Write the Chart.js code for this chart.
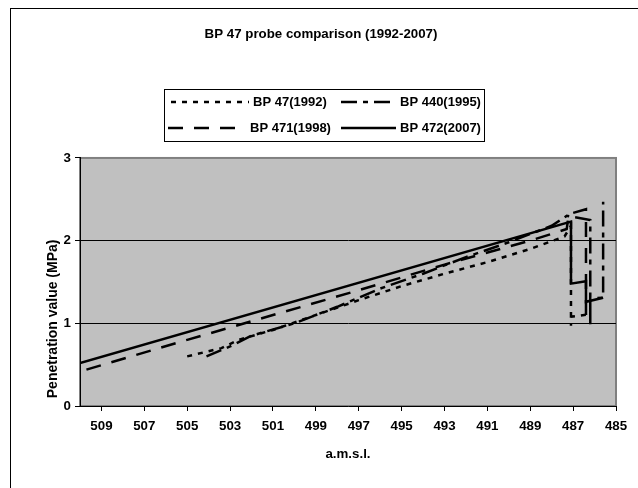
<!DOCTYPE html>
<html>
<head>
<meta charset="utf-8">
<script src="https://cdn.jsdelivr.net/npm/chart.js@4.4.1/dist/chart.umd.min.js"></script>
<style>
html, body { margin: 0; padding: 0; background: #fff; }
#wrap { width: 638px; height: 488px; position: relative; }
</style>
</head>
<body>
<div id="wrap"><canvas id="c"></canvas></div>
<script>
// series names
var seriesNames = ['BP 47(1992)', 'BP 440(1995)', 'BP 471(1998)', 'BP 472(2007)'];

// altitude (a.m.s.l.) and penetration value (MPa)
var bp47X  = [505.0, 503.4, 502.6, 501.0, 499.0, 497.0, 495.0, 493.0, 491.0, 489.0, 487.4, 487.1, 487.1, 487.1, 486.2];
var bp47Y  = [0.60, 0.70, 0.80, 0.92, 1.10, 1.28, 1.45, 1.60, 1.74, 1.90, 2.05, 2.18, 0.97, 1.08, 1.11];

var bp440X = [504.1, 503.0, 502.0, 500.0, 498.0, 496.0, 494.0, 492.0, 490.0, 488.0, 487.3, 486.2, 486.2, 486.2, 485.6, 485.6];
var bp440Y = [0.60, 0.72, 0.85, 1.00, 1.20, 1.42, 1.60, 1.80, 1.98, 2.18, 2.30, 2.25, 0.98, 1.30, 1.31, 2.47];

var bp471X = [509.7, 505.0, 501.0, 497.0, 493.0, 489.0, 487.3, 487.2, 486.4, 486.4];
var bp471Y = [0.44, 0.80, 1.10, 1.40, 1.71, 2.00, 2.14, 2.32, 2.38, 1.00];

var bp472X = [510.0, 487.1, 487.1, 486.4, 486.4, 485.6];
var bp472Y = [0.52, 2.23, 1.48, 1.51, 1.26, 1.31];

// tick labels
var xTicks = [485, 487, 489, 491, 493, 495, 497, 499, 501, 503, 505, 507, 509];
var yTicks = [0, 1, 2, 3];

var FONT = '"Liberation Sans", Arial, sans-serif';

function pts(xs, ys) {
  var out = [];
  for (var i = 0; i < xs.length; i++) out.push({x: xs[i], y: ys[i]});
  return out;
}

// gray plot area + outer frame
var plotBack = {
  id: 'plotBack',
  beforeDraw: function(chart) {
    var a = chart.chartArea, ctx = chart.ctx;
    ctx.save();
    ctx.fillStyle = '#c0c0c0';
    ctx.fillRect(a.left, a.top, a.right - a.left, a.bottom - a.top);
    ctx.strokeStyle = '#808080';
    ctx.lineWidth = 2;
    ctx.strokeRect(a.left, a.top, a.right - a.left, a.bottom - a.top);
    ctx.restore();
  },
  afterDraw: function(chart) {
    var ctx = chart.ctx;
    ctx.save();
    ctx.strokeStyle = '#000';
    ctx.lineWidth = 1;
    ctx.strokeRect(10.5, 8.5, 900, 900);
    ctx.restore();
  }
};

// boxed legend in two columns, like the original
var legendSpots = [[171, 249, 102], [341, 396, 102], [168, 246, 128], [341, 396, 128]];
var boxLegend = {
  id: 'boxLegend',
  afterDraw: function(chart) {
    var ctx = chart.ctx;
    ctx.save();
    ctx.strokeStyle = '#000';
    ctx.lineWidth = 1;
    ctx.strokeRect(164.5, 89.5, 320, 52);
    chart.data.datasets.forEach(function(ds, i) {
      var s = legendSpots[i];
      ctx.beginPath();
      ctx.setLineDash(ds.borderDash || []);
      ctx.lineWidth = ds.borderWidth;
      ctx.strokeStyle = ds.borderColor;
      ctx.moveTo(s[0], s[2]);
      ctx.lineTo(s[1], s[2]);
      ctx.stroke();
      ctx.setLineDash([]);
      ctx.fillStyle = '#000';
      ctx.font = 'bold 13px ' + FONT;
      ctx.textBaseline = 'middle';
      ctx.fillText(ds.label, s[1] + 4, s[2]);
    });
    ctx.restore();
  }
};

var dashes = [[5, 6], [16, 6, 5, 6], [15, 11], []];
var xyX = [bp47X, bp440X, bp471X, bp472X];
var xyY = [bp47Y, bp440Y, bp471Y, bp472Y];

var datasets = seriesNames.map(function(name, i) {
  return {
    label: name,
    data: pts(xyX[i], xyY[i]),
    showLine: true,
    borderColor: '#000',
    backgroundColor: '#000',
    borderWidth: 2.5,
    borderDash: dashes[i],
    pointRadius: 0,
    tension: 0
  };
});

new Chart(document.getElementById('c'), {
  type: 'scatter',
  data: { datasets: datasets },
  plugins: [plotBack, boxLegend],
  options: {
    responsive: true,
    maintainAspectRatio: false,
    animation: false,
    events: [],
    layout: { padding: { left: 26, top: 0, right: 22, bottom: 24 } },
    plugins: {
      legend: { display: false },
      tooltip: { enabled: false },
      title: {
        display: true,
        text: 'BP 47 probe comparison (1992-2007)',
        color: '#000',
        font: { family: FONT, size: 13.3, weight: 'bold' },
        padding: { top: 26, bottom: 116 }
      }
    },
    scales: {
      x: {
        type: 'linear',
        min: 485,
        max: 510,
        reverse: true,
        afterBuildTicks: function(s) { s.ticks = xTicks.map(function(v) { return {value: v}; }); },
        afterFit: function(s) { s.height = 58; },
        ticks: { color: '#000', font: { family: FONT, size: 13.3, weight: 'bold' }, padding: 7, maxRotation: 0, autoSkip: false },
        grid: { drawOnChartArea: false, drawTicks: true, tickLength: 5, tickColor: '#000' },
        border: { color: '#000', width: 1 },
        title: { display: true, text: 'a.m.s.l.', color: '#000', font: { family: FONT, size: 13.3, weight: 'bold' }, padding: { top: 4, bottom: 2 } }
      },
      y: {
        type: 'linear',
        min: 0,
        max: 3,
        afterBuildTicks: function(s) { s.ticks = yTicks.map(function(v) { return {value: v}; }); },
        afterFit: function(s) { s.width = 54; },
        ticks: { color: '#000', font: { family: FONT, size: 13.3, weight: 'bold' }, padding: 4 },
        grid: {
          color: function(c) { return (c.tick && (c.tick.value === 1 || c.tick.value === 2)) ? '#000' : 'rgba(0,0,0,0)'; },
          tickColor: '#000',
          tickLength: 5
        },
        border: { color: '#000', width: 1 },
        title: { display: true, text: '  Penetration value (MPa)', align: 'start', color: '#000', font: { family: FONT, size: 14, weight: 'bold' }, padding: { top: 19, bottom: 4 } }
      }
    }
  }
});
</script>
</body>
</html>
